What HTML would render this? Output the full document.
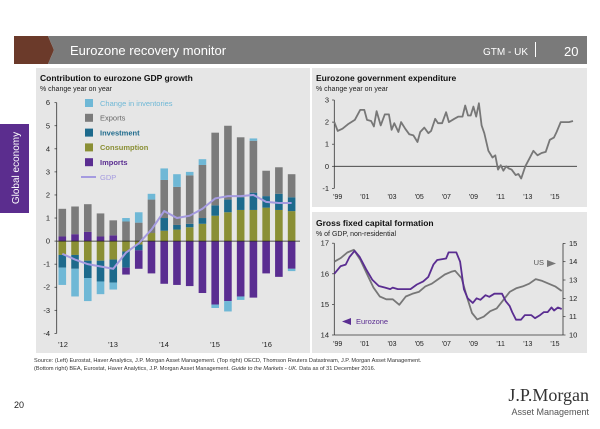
<!DOCTYPE html>
<html><head><meta charset="utf-8"><style>
body{margin:0;width:600px;height:424px;background:#fff;overflow:hidden;font-family:"Liberation Sans",sans-serif}
svg text{font-family:"Liberation Sans",sans-serif}
</style></head><body>
<svg id="s" width="600" height="424" xmlns="http://www.w3.org/2000/svg">
<rect x="14" y="36" width="28" height="28" fill="#6b3a2a"/>
<polygon points="42,36 48,36 54,50 48,64 42,64" fill="#6b3a2a"/>
<polygon points="48,36 587,36 587,64 48,64 54,50" fill="#7a7a7a"/>
<text x="70" y="55" fill="#fff" font-size="13">Eurozone recovery monitor</text>
<text x="528" y="55" fill="#fff" font-size="10" text-anchor="end">GTM - UK</text>
<rect x="535" y="42" width="1" height="15" fill="#fff"/>
<text x="564" y="56" fill="#fff" font-size="13">20</text>
<rect x="0" y="124" width="29" height="89" fill="#5b2d8e"/>
<text transform="translate(19,168) rotate(-90)" fill="#fff" font-size="10" text-anchor="middle">Global economy</text>
<rect x="36" y="68" width="274" height="285" fill="#e6e6e6"/>
<rect x="312" y="68" width="275" height="139" fill="#e6e6e6"/>
<rect x="312" y="212" width="275" height="141" fill="#e6e6e6"/>
<text x="40" y="81" font-size="8.5" font-weight="bold" fill="#111">Contribution to eurozone GDP growth</text>
<text x="40" y="91" font-size="7" fill="#222">% change year on year</text>
<text x="316" y="81" font-size="8.5" font-weight="bold" fill="#111">Eurozone government expenditure</text>
<text x="316" y="91" font-size="7" fill="#222">% change year on year</text>
<text x="316" y="226" font-size="8.5" font-weight="bold" fill="#111">Gross fixed capital formation</text>
<text x="316" y="236" font-size="7" fill="#222">% of GDP, non-residential</text>
<g id="L"></g><g id="T"></g><g id="B"></g>
<text x="34" y="362" font-size="5.6" fill="#333">Source: (Left) Eurostat, Haver Analytics, J.P. Morgan Asset Management. (Top right) OECD, Thomson Reuters Datastream, J.P. Morgan Asset Management.</text>
<text x="34" y="370" font-size="5.6" fill="#333">(Bottom right) BEA, Eurostat, Haver Analytics, J.P. Morgan Asset Management. <tspan font-style="italic">Guide to the Markets - UK.</tspan> Data as of 31 December 2016.</text>
<text x="14" y="408" font-size="9" fill="#222">20</text>
<text x="589" y="401" font-size="18" text-anchor="end" fill="#333" font-family="Liberation Serif" style="font-family:'Liberation Serif',serif">J.P.Morgan</text>
<text x="589" y="415" font-size="9" text-anchor="end" fill="#555">Asset Management</text>
</svg>
<script>
var NS="http://www.w3.org/2000/svg";
function el(p,t,a,txt){var e=document.createElementNS(NS,t);for(var k in a)e.setAttribute(k,a[k]);if(txt!=null)e.textContent=txt;document.getElementById(p).appendChild(e);return e;}
// Left chart
var y0=241.1,u=23.07;function Y(v){return y0-v*u;}
el("L","line",{x1:56.7,y1:Y(6),x2:56.7,y2:Y(-4),stroke:"#333","stroke-width":0.8});
for(var v=-4;v<=6;v++){el("L","line",{x1:54.5,y1:Y(v),x2:56.7,y2:Y(v),stroke:"#333","stroke-width":0.7});el("L","text",{x:50,y:Y(v)+2.5,"font-size":7.5,"text-anchor":"end",fill:"#222"},String(v));}
var C={inv:"#6fb8d6",exp:"#7b7b7b",ivt:"#1d6a8c",con:"#8a8f35",imp:"#5a2d91"};
// each bar: list of segments [from,to,color]
var B=[
[[0,.2,"imp"],[.2,1.4,"exp"],[0,-.6,"con"],[-.6,-1.15,"ivt"],[-1.15,-1.9,"inv"]],
[[0,.3,"imp"],[.3,1.5,"exp"],[0,-.6,"con"],[-.6,-1.2,"ivt"],[-1.2,-2.4,"inv"]],
[[0,.4,"imp"],[.4,1.6,"exp"],[0,-.85,"con"],[-.85,-1.6,"ivt"],[-1.6,-2.6,"inv"]],
[[0,.2,"imp"],[.2,1.2,"exp"],[0,-.85,"con"],[-.85,-1.75,"ivt"],[-1.75,-2.3,"inv"]],
[[0,.25,"imp"],[.25,.9,"exp"],[0,-.8,"con"],[-.8,-1.8,"ivt"],[-1.8,-2.1,"inv"]],
[[0,.85,"exp"],[.85,1,"inv"],[0,-.45,"con"],[-.45,-1.15,"ivt"],[-1.15,-1.45,"imp"]],
[[0,.8,"exp"],[.8,1.25,"inv"],[0,-.15,"con"],[-.15,-.4,"ivt"],[-.4,-1.2,"imp"]],
[[0,.35,"con"],[.35,1.8,"exp"],[1.8,2.05,"inv"],[0,-1.4,"imp"]],
[[0,.45,"con"],[.45,1,"ivt"],[1,2.65,"exp"],[2.65,3.15,"inv"],[0,-1.85,"imp"]],
[[0,.5,"con"],[.5,.7,"ivt"],[.7,2.35,"exp"],[2.35,2.9,"inv"],[0,-1.9,"imp"]],
[[0,.6,"con"],[.6,.75,"ivt"],[.75,2.85,"exp"],[2.85,3,"inv"],[0,-1.95,"imp"]],
[[0,.75,"con"],[.75,1,"ivt"],[1,3.3,"exp"],[3.3,3.55,"inv"],[0,-2.25,"imp"]],
[[0,1.1,"con"],[1.1,1.55,"ivt"],[1.55,4.7,"exp"],[0,-2.75,"imp"],[-2.75,-2.9,"inv"]],
[[0,1.25,"con"],[1.25,1.8,"ivt"],[1.8,5,"exp"],[0,-2.6,"imp"],[-2.6,-3.05,"inv"]],
[[0,1.35,"con"],[1.35,1.9,"ivt"],[1.9,4.5,"exp"],[0,-2.4,"imp"],[-2.4,-2.55,"inv"]],
[[0,1.35,"con"],[1.35,2.1,"ivt"],[2.1,4.35,"exp"],[4.35,4.45,"inv"],[0,-2.45,"imp"]],
[[0,1.45,"con"],[1.45,1.95,"ivt"],[1.95,3.05,"exp"],[0,-1.4,"imp"]],
[[0,1.35,"con"],[1.35,2.05,"ivt"],[2.05,3.2,"exp"],[0,-1.55,"imp"]],
[[0,1.3,"con"],[1.3,1.9,"ivt"],[1.9,2.9,"exp"],[0,-1.2,"imp"],[-1.2,-1.3,"inv"]]];
var G=[-.55,-.8,-1,-1.1,-1.2,-.5,-.1,.5,1.3,1,1.1,1.4,1.85,1.95,1.95,2,1.7,1.65,1.65];
var sp=12.74,x1=62.3,bw=7.6,pts=[];
B.forEach(function(b,i){var cx=x1+i*sp;b.forEach(function(s){var a=Y(Math.max(s[0],s[1])),c=Y(Math.min(s[0],s[1]));el("L","rect",{x:cx-bw/2,y:a,width:bw,height:c-a,fill:C[s[2]]});});pts.push(cx+","+Y(G[i]));});
el("L","line",{x1:56.7,y1:y0,x2:300,y2:y0,stroke:"#222","stroke-width":0.8});
el("L","polyline",{points:pts.join(" "),fill:"none",stroke:"#a59be0","stroke-width":2});
[["'12",63],["'13",113],["'14",164],["'15",215],["'16",267]].forEach(function(l){el("L","text",{x:l[1],y:347,"font-size":7.5,"text-anchor":"middle",fill:"#222"},l[0]);});
var lg=[["Change in inventories","inv"],["Exports","exp"],["Investment","ivt"],["Consumption","con"],["Imports","imp"]];
lg.forEach(function(l,i){var y=103+i*14.8;el("L","rect",{x:85,y:y-4,width:8,height:8,fill:C[l[1]]});el("L","text",{x:100,y:y+2.8,"font-size":7.5,fill:(l[1]=="exp"?"#666":C[l[1]]),"font-weight":(l[1]=="exp"||l[1]=="inv"?"normal":"bold")},l[0]);});
el("L","line",{x1:81,y1:177,x2:96,y2:177,stroke:"#a59be0","stroke-width":2});
el("L","text",{x:100,y:180,"font-size":7.5,fill:"#a59be0"},"GDP");
// Top right
var tz=166.3,tu=22.1;function TY(v){return tz-v*tu;}
el("T","line",{x1:334.3,y1:TY(3),x2:334.3,y2:TY(-1),stroke:"#333","stroke-width":0.8});
for(v=-1;v<=3;v++){el("T","line",{x1:332,y1:TY(v),x2:334.3,y2:TY(v),stroke:"#333","stroke-width":.7});el("T","text",{x:329,y:TY(v)+2.5,"font-size":7.5,"text-anchor":"end",fill:"#222"},String(v));}
el("T","line",{x1:334.3,y1:tz,x2:577,y2:tz,stroke:"#333","stroke-width":.8});
var labs=["'99","'01","'03","'05","'07","'09","'11","'13","'15"];
labs.forEach(function(l,i){el("T","text",{x:337.7+i*27.16,y:199,"font-size":7,"text-anchor":"middle",fill:"#222"},l);el("B","text",{x:337.7+i*27.16,y:346,"font-size":7,"text-anchor":"middle",fill:"#222"},l);});
var TD=[1999,2,1999.25,1.6,1999.6,1.7,2000,1.9,2000.5,2.1,2000.9,2.55,2001.2,2.55,2001.4,2.1,2001.7,2.05,2001.9,1.8,2002.1,2.5,2002.4,1.85,2002.7,2.35,2003,2.35,2003.2,1.65,2003.4,1.95,2003.7,1.55,2003.9,2,2004.2,1.7,2004.5,1.45,2004.8,1.4,2005.1,1.1,2005.3,1.55,2005.6,1.75,2005.9,1.5,2006.1,1.6,2006.4,2.15,2006.6,1.95,2006.9,1.95,2007.2,2.45,2007.4,2,2007.8,2.15,2008.1,2.25,2008.4,2.25,2008.6,2.75,2008.8,2.3,2009,2.3,2009.2,2.7,2009.4,2.25,2009.6,2.85,2009.8,1.85,2010,1.5,2010.3,.7,2010.6,.4,2010.8,.5,2011,-.15,2011.2,.05,2011.4,-.2,2011.6,0,2011.8,-.1,2012,-.15,2012.3,-.4,2012.5,-.35,2012.7,-.55,2013,0,2013.3,.35,2013.6,.7,2013.9,.5,2014.2,.6,2014.5,.65,2014.8,1.2,2015.1,1.3,2015.3,1.55,2015.6,2,2015.9,2,2016.2,2,2016.5,2.05];
function poly(g,d,xa,xb,yf,col,w){var p=[],a=d[0],b=d[d.length-2];for(var i=0;i<d.length;i+=2)p.push((xa+(d[i]-a)/(b-a)*(xb-xa)).toFixed(1)+","+yf(d[i+1]).toFixed(1));el(g,"polyline",{points:p.join(" "),fill:"none",stroke:col,"stroke-width":w,"stroke-linejoin":"round"});}
poly("T",TD,334.3,573,TY,"#777",1.8);
// Bottom right
function BL(v){return 335-(v-14)*30.6;}function BR(v){return 335-(v-10)*18.33;}
el("B","line",{x1:334.3,y1:BL(17),x2:334.3,y2:335,stroke:"#333","stroke-width":.8});
el("B","line",{x1:334.3,y1:335,x2:563,y2:335,stroke:"#333","stroke-width":.8});
el("B","line",{x1:563,y1:BR(15),x2:563,y2:335,stroke:"#333","stroke-width":.8});
for(v=14;v<=17;v++){el("B","line",{x1:332,y1:BL(v),x2:334.3,y2:BL(v),stroke:"#333","stroke-width":.7});el("B","text",{x:329,y:BL(v)+2.5,"font-size":7.5,"text-anchor":"end",fill:"#222"},String(v));}
for(v=10;v<=15;v++){el("B","line",{x1:563,y1:BR(v),x2:565.5,y2:BR(v),stroke:"#333","stroke-width":.7});el("B","text",{x:569,y:BR(v)+2.5,"font-size":7.5,fill:"#222"},String(v));}
var US=[1999,14,1999.5,14.2,2000,14.5,2000.5,14.65,2001,14.1,2001.5,13.35,2002,12.6,2002.5,12.1,2003,11.95,2003.5,11.95,2004,11.65,2004.5,12.1,2005,12.25,2005.5,12.35,2006,12.65,2006.5,12.8,2007,13.05,2007.5,13.3,2008,13.45,2008.3,13.5,2008.8,13.1,2009.2,12.1,2009.6,11.2,2010,10.85,2010.5,11,2011,11.3,2011.5,11.45,2012,11.9,2012.5,12.35,2013,12.55,2013.5,12.65,2014,12.8,2014.5,13.05,2015,12.95,2015.5,12.8,2016,12.65,2016.5,12.4];
var EZ=[1999,16,1999.5,16.25,1999.9,16.3,2000.2,16.55,2000.6,16.75,2001,16.55,2001.5,16.15,2002,15.8,2002.5,15.6,2003,15.55,2003.4,15.5,2003.6,15.55,2004,15.5,2005,15.5,2005.5,15.65,2006,15.75,2006.4,15.9,2006.8,16.3,2007.1,16.45,2007.8,16.5,2008,16.7,2008.6,16.7,2008.9,16.4,2009.2,15.5,2009.5,15.2,2009.9,15.05,2010.2,15.2,2010.5,15.15,2010.9,15.3,2011.2,15.25,2011.6,15.35,2012.2,15.35,2012.5,15.1,2012.8,14.95,2013,14.75,2013.3,14.5,2013.7,14.5,2014,14.65,2014.5,14.65,2014.8,14.55,2015.2,14.65,2015.5,14.75,2015.8,14.75,2016.1,14.9,2016.3,14.8,2016.6,14.9,2016.9,14.85];
poly("B",US,334.3,561.7,BR,"#777",1.8);
poly("B",EZ,334.3,561.7,BL,"#5a2d91",1.8);
el("B","text",{x:544,y:265,"font-size":7.5,"text-anchor":"end",fill:"#555"},"US");
el("B","polygon",{points:"547,260 556,263.5 547,267",fill:"#777"});
el("B","polygon",{points:"351,318 342,321.5 351,325",fill:"#5a2d91"});
el("B","text",{x:356,y:324,"font-size":7.5,fill:"#5a2d91"},"Eurozone");
</script>
</body></html>
